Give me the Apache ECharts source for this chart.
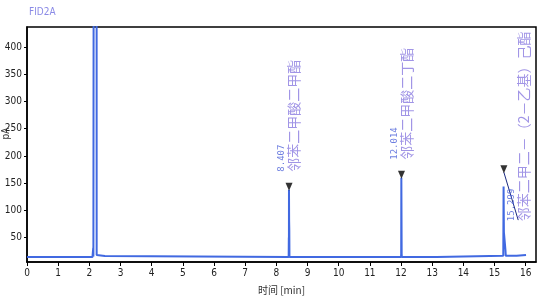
<!DOCTYPE html>
<html><head><meta charset="utf-8">
<script src="https://cdn.jsdelivr.net/npm/echarts@6/dist/echarts.min.js"></script>
<style>html,body{margin:0;padding:0;background:#fff}#c{width:542px;height:301px}</style>
</head><body><div id="c"></div>
<script>
// Chromatogram trace (time in min, signal in pA)
const traceTime = [0.00, 2.10, 2.12, 2.125, 2.13, 2.155, 2.16, 2.23, 2.235, 2.25, 2.50, 2.51,
  8.395, 8.400, 8.403, 8.405, 8.410, 8.415, 8.420,
  12.000, 12.005, 12.010, 12.020, 12.025,
  13.14, 13.15, 15.28, 15.29, 15.30, 15.35, 15.36, 15.71, 15.72, 16.01];
const traceSignal = [14, 14, 14.2, 31, 15, 15, 2000, 2000, 18, 16, 16, 14,
  14, 50, 20, 138, 80, 64, 14,
  14, 20, 160, 20, 14,
  14, 16.3, 16.3, 144, 60, 27, 16.3, 16.3, 18, 18];

// Integrated peaks
const peakTimes = [8.407, 12.014, 15.299];
const peakMarks = [138, 160, 170];
const peakRT = ['8.407', '12.014', '15.299'];
const peakNames = ['邻苯二甲酸二甲酯', '邻苯二甲酸二丁酯', '邻苯二甲二－（2－乙基）己酯'];
const labelTimes = [8.407, 12.014, 15.76];
const labelValues = [171, 193, 80];
const leaderTime = [15.299, 15.76];
const leaderValue = [170, 82];

const xTicks = [0,1,2,3,4,5,6,7,8,9,10,11,12,13,14,15,16];
const yTicks = [50,100,150,200,250,300,350,400];

const chart = echarts.init(document.getElementById('c'), null, {renderer:'canvas'});
const tickFont = {fontFamily:'DejaVu Sans', fontStyle:'condensed', fontSize:10, color:'#222'};
chart.setOption({
  animation:false,
  title:{text:'FID2A', left:29, top:7, padding:0, textStyle:{fontSize:10, fontWeight:'normal', color:'#8a8ae6', fontFamily:'DejaVu Sans', fontStyle:'condensed'}},
  grid:{left:27, right:6, top:27, bottom:39, show:true, borderColor:'#000', borderWidth:1.5,
    containLabel:false, outerBoundsMode:'none'},
  xAxis:{type:'value', min:0, max:16.33,
    name:'时间 [min]', nameLocation:'middle', nameGap:23, nameMoveOverlap:false,
    nameTextStyle:{fontSize:10, color:'#333', fontFamily:'Noto Sans CJK SC'},
    axisLine:{lineStyle:{color:'#000', width:1.5}},
    axisTick:{customValues:xTicks, length:4, lineStyle:{color:'#000'}},
    axisLabel:Object.assign({customValues:xTicks, margin:6}, tickFont),
    splitLine:{show:false}},
  yAxis:{type:'value', min:5, max:437,
    name:'pA', nameLocation:'middle', nameGap:16, nameRotate:90, nameMoveOverlap:false,
    nameTextStyle:{fontSize:10, color:'#333', fontFamily:'DejaVu Sans', fontStyle:'condensed', padding:[0,0,0,22]},
    axisLine:{lineStyle:{color:'#000', width:1.5}},
    axisTick:{customValues:yTicks, length:3, lineStyle:{color:'#000'}},
    axisLabel:Object.assign({customValues:yTicks, margin:5}, tickFont),
    splitLine:{show:false}},
  series:[
    {type:'line', data:traceTime.map((t,i)=>[t, traceSignal[i]]), showSymbol:false, clip:true,
      lineStyle:{color:'#4169e1', width:2}, z:2},
    {type:'line', data:leaderTime.map((t,i)=>[t, leaderValue[i]]), showSymbol:false,
      lineStyle:{color:'#1a2a80', width:1}, z:3},
    {type:'scatter', data:peakTimes.map((t,i)=>[t, peakMarks[i]]), symbol:'triangle', symbolRotate:180,
      symbolSize:[7,8], symbolOffset:[0,-3], itemStyle:{color:'#000'}, z:4},
    {type:'scatter', data:labelTimes.map((t,i)=>({value:[t, labelValues[i]], label:{formatter:peakRT[i]}})),
      symbolSize:0, z:5,
      label:{show:true, position:'inside', rotate:90, align:'left', verticalAlign:'middle', offset:[0,-7],
        fontFamily:'DejaVu Sans Mono, monospace', fontSize:9, color:'#4a5fd8'}},
    {type:'scatter', data:labelTimes.map((t,i)=>({value:[t, labelValues[i]], label:{formatter:peakNames[i]}})),
      symbolSize:0, z:5,
      label:{show:true, position:'inside', rotate:90, align:'left', verticalAlign:'middle', offset:[0,5],
        fontFamily:'Noto Sans CJK SC', fontSize:14, color:'#8a7ae0'}}
  ]
});
</script></body></html>
